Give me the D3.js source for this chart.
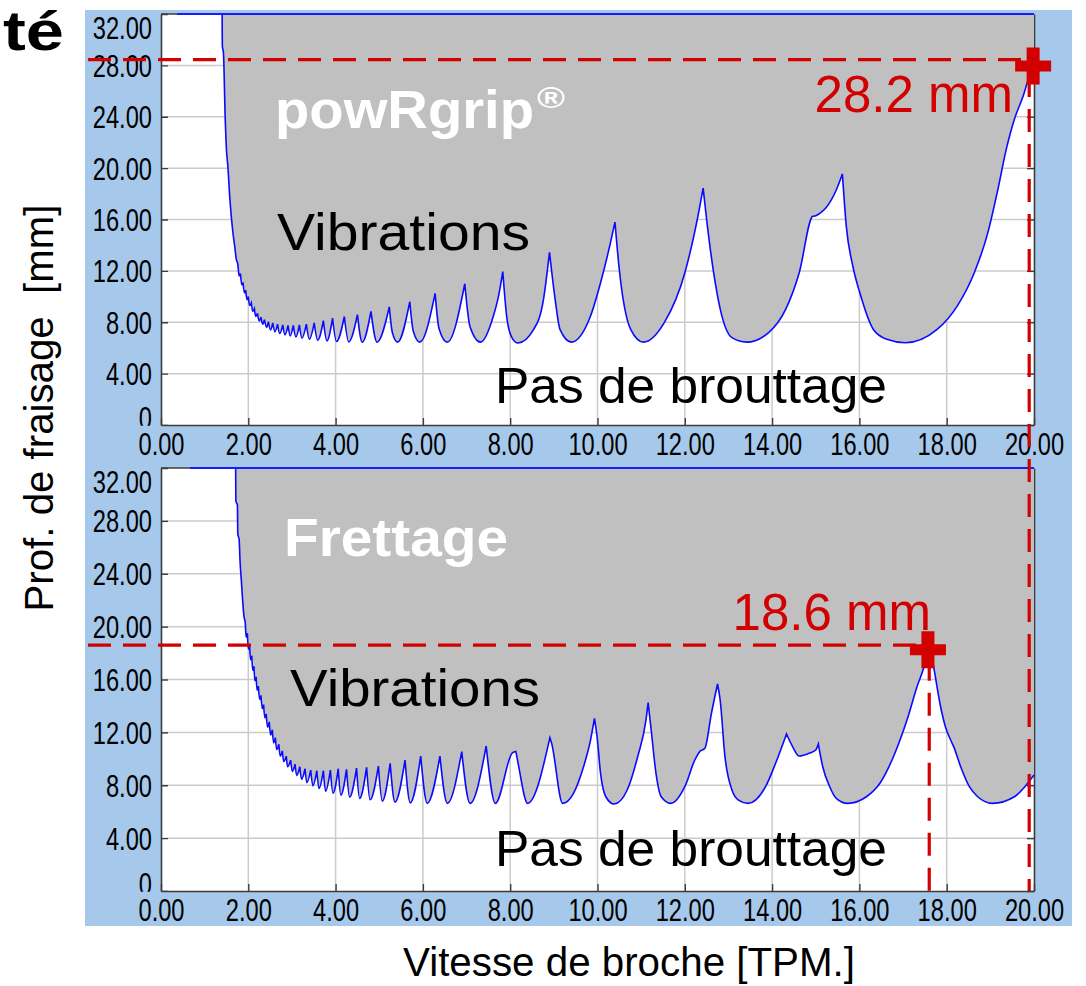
<!DOCTYPE html>
<html><head><meta charset="utf-8">
<script src="https://cdn.jsdelivr.net/npm/d3@7"></script>
<style>
body{margin:0;background:#fff}
svg{display:block}
text{font-family:"Liberation Sans",Arial,Helvetica,sans-serif}
</style>
</head><body>
<svg id="c" width="1086" height="986"></svg>
<script>
// ---------- data ----------
const xTicks = [0, 2, 4, 6, 8, 10, 12, 14, 16, 18, 20];
const xTickLabels = ["0.00","2.00","4.00","6.00","8.00","10.00","12.00","14.00","16.00","18.00","20.00"];
const yTicks = [0, 4, 8, 12, 16, 20, 24, 28, 32];
const yTickLabels = ["0","4.00","8.00","12.00","16.00","20.00","24.00","28.00","32.00"];

// stability limit (depth of cut vs spindle speed) - powRgrip
const powRgripCurve = [[1.400,32],[1.405,29.5],[1.43,29.0],[1.47,24.0],[1.50,21.4],[1.53,20.2],[1.58,17.5],[1.64,15.2],[1.70,13.6],[1.72,13.0],
[1.76,12.5],[1.79,11.6],[1.82,11.8],[1.85,10.9],[1.88,11.1],[1.91,10.3],[1.94,10.5],[1.97,9.75],[2.00,10.0],[2.03,9.3],[2.07,9.5],[2.10,8.85],[2.14,9.05],[2.17,8.45],[2.21,8.7],[2.25,8.1],[2.29,8.4],[2.33,7.85],[2.37,8.2],[2.42,7.6],[2.46,8.05],[2.51,7.4],[2.56,7.95],[2.61,7.25],[2.67,7.85],[2.72,7.12],[2.79,7.8],[2.84,7.02],[2.91,7.75],[2.96,6.93],[3.03,7.75],[3.09,6.85],[3.17,7.8],[3.23,6.76],[3.33,7.85],[3.40,6.68],[3.51,7.95],[3.59,6.6],[3.72,8.12],[3.80,6.55],[3.93,8.33],[4.02,6.5],[4.20,8.45],[4.30,6.47],[4.50,8.6],[4.61,6.45],[4.81,8.85],[4.95,6.45],[5.23,9.2],[5.30,7.2],[5.42,6.45],[5.70,9.6],[5.78,7.3],[5.93,6.45],[6.28,10.25],[6.37,7.5],[6.56,6.45],[6.96,11.0],[7.08,7.65],[7.32,6.45],[7.61,8.43],[7.73,9.99],[7.83,11.95],[7.92,8.43],[8.03,6.87],[8.18,6.38],[8.53,7.4],[8.76,9.73],[8.90,13.45],[9.03,9.77],[9.14,7.44],[9.40,6.45],[9.84,8.48],[10.07,11.07],[10.26,13.65],[10.40,15.8],[10.49,12.4],[10.76,7.44],[11.05,6.45],[11.53,7.97],[12.00,11.84],[12.30,16.25],[12.42,18.45],[12.50,16.0],[12.65,12.1],[12.85,8.48],[13.08,6.8],[13.42,6.45],[13.92,7.19],[14.31,9.0],[14.62,11.84],[14.93,16.25],[15.00,16.3],[15.10,16.5],[15.23,16.9],[15.47,18.3],[15.61,19.55],[15.70,15.47],[15.85,12.36],[16.01,10.29],[16.32,7.44],[16.63,6.67],[17.05,6.4],[17.78,7.44],[18.24,9.26],[18.63,11.84],[18.94,14.94],[19.17,18.3],[19.36,21.4],[19.56,23.9],[19.75,25.6],[19.87,26.9],[20.00,28.0]];

// stability limit - Frettage (shrink fit)
const frettageCurve = [[1.710,32],[1.715,29.5],[1.75,29.2],[1.76,27.0],[1.79,26.6],[1.81,25.0],[1.84,23.5],[1.87,22.0],[1.90,20.8],
[1.93,20.3],[1.95,19.2],[1.98,19.5],[2.00,18.3],[2.03,18.6],[2.05,17.5],[2.08,17.8],[2.10,16.7],[2.13,17.0],[2.15,15.9],[2.18,16.2],[2.20,15.2],[2.23,15.5],[2.26,14.5],[2.29,14.8],[2.32,13.8],[2.35,14.1],[2.38,13.1],[2.41,13.4],[2.44,12.4],[2.48,12.8],[2.51,11.8],[2.55,12.2],[2.58,11.2],[2.62,11.6],[2.65,10.7],[2.70,11.1],[2.73,10.2],[2.78,10.6],[2.81,9.8],[2.87,10.2],[2.90,9.4],[2.97,9.9],[3.01,9.05],[3.07,9.6],[3.11,8.75],[3.18,9.4],[3.22,8.45],[3.30,9.25],[3.34,8.2],[3.43,9.15],[3.48,7.95],[3.57,9.1],[3.62,7.75],[3.72,9.1],[3.77,7.55],[3.88,9.15],[3.94,7.4],[4.06,9.25],[4.12,7.25],[4.25,9.2],[4.32,7.1],[4.48,9.3],[4.55,7.0],[4.71,9.35],[4.79,6.9],[4.98,9.45],[5.07,6.8],[5.25,9.65],[5.36,6.72],[5.59,9.9],[5.71,6.67],[5.95,10.2],[6.10,6.63],[6.39,10.2],[6.56,6.63],[6.89,10.55],[7.08,6.63],[7.45,10.97],[7.66,6.63],[8.05,10.45],[8.13,10.55],[8.19,9.5],[8.40,6.63],[8.91,11.6],[8.95,11.17],[9.20,6.63],[9.45,7.39],[9.68,9.4],[9.84,11.42],[9.93,13.06],[9.99,11.67],[10.07,8.9],[10.19,7.13],[10.38,6.58],[10.68,7.64],[10.92,10.16],[11.11,12.93],[11.16,14.25],[11.23,12.18],[11.34,8.9],[11.46,7.13],[11.68,6.63],[12.00,7.89],[12.23,9.91],[12.34,10.54],[12.46,10.79],[12.61,13.44],[12.75,15.66],[12.81,14.45],[12.92,10.16],[13.08,7.64],[13.23,6.88],[13.45,6.63],[13.85,7.89],[14.08,9.66],[14.33,11.88],[14.47,10.92],[14.62,10.21],[14.85,10.42],[15.00,10.67],[15.06,11.12],[15.16,9.4],[15.32,7.89],[15.47,7.01],[15.73,6.63],[16.16,7.13],[16.47,8.15],[16.78,10.16],[17.09,12.93],[17.32,15.45],[17.48,16.97],[17.60,18.7],[17.70,16.97],[17.86,13.94],[17.97,12.43],[18.09,11.42],[18.16,10.92],[18.32,9.4],[18.52,7.89],[18.71,7.13],[19.05,6.63],[19.55,7.13],[19.79,7.89],[20.00,8.77]];

// blue top-clip line start (x value) per panel
const topLineStart = [0.37, 0.66];

// annotations
const markerX = [19.98, 17.57];
const markerY = [27.95, 18.25];
const refLineY = [28.45, 18.6];
const vLineX = [19.89, 17.6];
const markerLabels = ["28.2 mm", "18.6 mm"];
const panelTitles = ["powRgrip", "Frettage"];

// ---------- drawing ----------
const svg = d3.select("#c");
const RED = "#d20000";
const BLUE_BG = "#a6c8ea";

svg.append("rect").attr("x",85).attr("y",10).attr("width",987).attr("height",916).attr("fill",BLUE_BG);

const panels = [
  {top:14, bottom:425, curve:powRgripCurve},
  {top:468, bottom:891, curve:frettageCurve}
];
const L = 161, R = 1034;
const xScale = d3.scaleLinear().domain([0,20]).range([L,R]);

function curvePath(pts, x, y){
  const segs = []; let cur = [pts[0]];
  for (let i=1;i<pts.length;i++){
    cur.push(pts[i]);
    if (i<pts.length-1 && pts[i][1]>pts[i-1][1] && pts[i][1]>pts[i+1][1]) { segs.push(cur); cur=[pts[i]]; }
  }
  segs.push(cur);
  const line = d3.line().x(d=>x(d[0])).y(d=>y(d[1])).curve(d3.curveMonotoneX);
  return segs.map((s,i)=>{ const p=line(s); return i ? p.replace(/^M/,"L") : p; }).join("");
}

const yScales = [];
panels.forEach((p,pi)=>{
  const y = d3.scaleLinear().domain([0,32]).range([p.bottom, p.top]);
  yScales.push(y);
  const g = svg.append("g");
  g.append("rect").attr("x",L).attr("y",p.top).attr("width",R-L).attr("height",p.bottom-p.top).attr("fill","#fff");
  // grid
  g.selectAll(null).data(xTicks.slice(1,-1)).join("line")
    .attr("x1",d=>xScale(d)).attr("x2",d=>xScale(d)).attr("y1",p.top).attr("y2",p.bottom)
    .attr("stroke","#cbcbcb").attr("stroke-width",1.5);
  g.selectAll(null).data(yTicks.slice(1,-1)).join("line")
    .attr("y1",d=>y(d)).attr("y2",d=>y(d)).attr("x1",L).attr("x2",R)
    .attr("stroke","#cbcbcb").attr("stroke-width",1.5);

  // clip for y labels (in the axis group's local coordinates)
  const clipId = "clipY"+pi;
  svg.append("clipPath").attr("id",clipId).append("rect")
    .attr("x",-85).attr("y",p.top-10).attr("width",R-L+90).attr("height",p.bottom-p.top+10.8);

  // left axis
  const ax = g.append("g").attr("transform",`translate(${L},0)`).attr("clip-path",`url(#${clipId})`)
    .call(d3.axisLeft(y).tickValues(yTicks).tickFormat((d,i)=>yTickLabels[i]).tickSize(-7).tickSizeOuter(0).tickPadding(9));
  // right axis
  const axR = g.append("g").attr("transform",`translate(${R},0)`)
    .call(d3.axisRight(y).tickValues(yTicks).tickFormat("").tickSize(-7).tickSizeOuter(0));
  // bottom axis
  const axB = g.append("g").attr("transform",`translate(0,${p.bottom})`)
    .call(d3.axisBottom(xScale).tickValues(xTicks).tickFormat((d,i)=>xTickLabels[i]).tickSize(-7).tickSizeOuter(0).tickPadding(8));
  [ax,axR,axB].forEach(a=>{
    a.select(".domain").attr("stroke","#3c3c3c").attr("stroke-width",1.6);
    a.selectAll(".tick line").attr("stroke","#3c3c3c").attr("stroke-width",1.4);
  });
  const SX = 0.74;
  ax.selectAll(".tick text").attr("font-size",32).attr("fill","#000")
    .attr("font-family","'Liberation Sans',Arial,sans-serif")
    .attr("x",-9/SX).attr("transform",`scale(${SX},1)`)
    .attr("dy",d=> d===32 ? "0.78em" : (d===0 ? "0.12em" : "0.34em"));
  axB.selectAll(".tick text").attr("font-size",32).attr("fill","#000")
    .attr("font-family","'Liberation Sans',Arial,sans-serif")
    .attr("transform",`scale(${SX},1)`).attr("dy","0.7em");
  // top frame line
  g.append("line").attr("x1",L).attr("x2",R).attr("y1",p.top).attr("y2",p.top).attr("stroke","#3c3c3c").attr("stroke-width",1.6);

  // fill + curve
  const cp = curvePath(p.curve, xScale, y);
  g.append("path").attr("d", cp + `L${xScale(20)},${y(32)}L${xScale(p.curve[0][0])},${y(32)}Z`)
    .attr("fill","#c0c0c0").attr("stroke","none");
  g.append("path").attr("d", cp).attr("fill","none").attr("stroke","#0a0aff").attr("stroke-width",1.6);
  g.append("line").attr("x1",xScale(topLineStart[pi])).attr("x2",xScale(20)).attr("y1",y(32)).attr("y2",y(32))
    .attr("stroke","#1a1aff").attr("stroke-width",2.2);
});

// ---- text labels ----
function txt(s, x, y, fs, opts={}){
  const t = svg.append("text").attr("x",x).attr("y",y).attr("font-size",fs)
    .attr("fill",opts.fill||"#000").attr("font-weight",opts.bold?"bold":"normal")
    .attr("text-anchor",opts.anchor||"start");
  if (opts.len){ t.attr("textLength",opts.len).attr("lengthAdjust","spacingAndGlyphs"); }
  t.text(s);
  return t;
}
// title fragment
txt("té", 3, 50, 56, {bold:true, len:61});

// panel titles
txt(panelTitles[0], 275, 128, 54, {bold:true, fill:"#fff", len:259});
txt("®", 537, 108, 30, {bold:true, fill:"#fff", len:28});
txt(panelTitles[1], 284, 556, 54, {bold:true, fill:"#fff", len:224});

txt("Vibrations", 277, 250, 52, {len:253});
txt("Pas de brouttage", 495, 403, 50, {len:392});
txt("Vibrations", 290, 706, 52, {len:250});
txt("Pas de brouttage", 495, 866, 50, {len:392});

// axis titles
svg.append("text").attr("transform","translate(53,408) rotate(-90)").attr("text-anchor","middle")
  .attr("font-size",40).attr("fill","#000").style("white-space","pre")
  .attr("textLength",407).attr("lengthAdjust","spacingAndGlyphs")
  .text("Prof. de fraisage  [mm]");
txt("Vitesse de broche [TPM.]", 629, 976, 41, {anchor:"middle", len:452});

// ---- red annotations ----
const yTop = yScales[0], yBot = yScales[1];
const dash = "23,12";
svg.append("line").attr("x1",88).attr("x2",xScale(markerX[0])).attr("y1",yTop(refLineY[0])).attr("y2",yTop(refLineY[0]))
  .attr("stroke",RED).attr("stroke-width",3.2).attr("stroke-dasharray",dash);
svg.append("line").attr("x1",88).attr("x2",xScale(markerX[1])-12).attr("y1",yBot(refLineY[1])).attr("y2",yBot(refLineY[1]))
  .attr("stroke",RED).attr("stroke-width",3.2).attr("stroke-dasharray",dash);
svg.append("line").attr("x1",xScale(vLineX[0])).attr("x2",xScale(vLineX[0])).attr("y1",yTop(markerY[0])+8).attr("y2",yBot(0))
  .attr("stroke",RED).attr("stroke-width",3.2).attr("stroke-dasharray",dash);
svg.append("line").attr("x1",xScale(vLineX[1])).attr("x2",xScale(vLineX[1])).attr("y1",yBot(markerY[1])+8).attr("y2",yBot(0))
  .attr("stroke",RED).attr("stroke-width",3.2).attr("stroke-dasharray",dash);

[[xScale(markerX[0]), yTop(markerY[0])],[xScale(markerX[1]), yBot(markerY[1])]].forEach(([cx,cy])=>{
  svg.append("rect").attr("x",cx-18).attr("y",cy-5.5).attr("width",36).attr("height",11).attr("fill",RED);
  svg.append("rect").attr("x",cx-6.5).attr("y",cy-18.5).attr("width",13).attr("height",37).attr("fill",RED);
});
txt(markerLabels[0], 1013, 112, 51, {fill:RED, anchor:"end"});
txt(markerLabels[1], 931, 630, 51, {fill:RED, anchor:"end"});
</script>
</body></html>
